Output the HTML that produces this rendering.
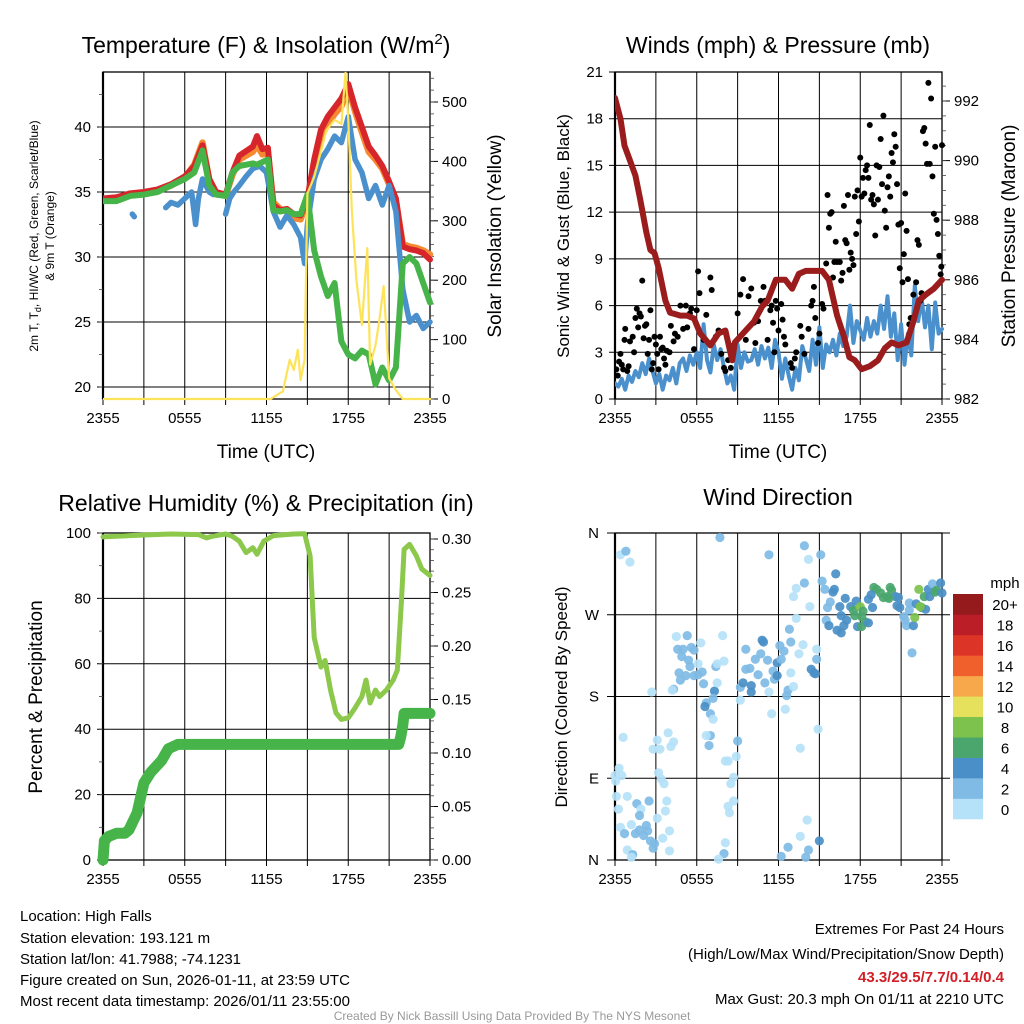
<!DOCTYPE html>
<html><head><meta charset="utf-8"><style>
html,body{margin:0;padding:0;background:#fff;}
svg{display:block;font-family:"Liberation Sans",Arial,sans-serif;}
</style></head><body>
<svg id="fig" width="1024" height="1024" viewBox="0 0 1024 1024" xmlns="http://www.w3.org/2000/svg">
<rect width="1024" height="1024" fill="#fff"/>
<text x="266" y="53" font-size="23" text-anchor="middle">Temperature (F) &amp; Insolation (W/m<tspan dy="-9" font-size="15">2</tspan><tspan dy="9">)</tspan></text>
<text x="778" y="53" font-size="23" text-anchor="middle">Winds (mph) &amp; Pressure (mb)</text>
<text x="266" y="511" font-size="23" text-anchor="middle">Relative Humidity (%) &amp; Precipitation (in)</text>
<text x="778" y="505" font-size="23" text-anchor="middle">Wind Direction</text>
<text x="266" y="458" font-size="19" text-anchor="middle">Time (UTC)</text>
<text x="778" y="458" font-size="19" text-anchor="middle">Time (UTC)</text>
<text transform="translate(38,236) rotate(-90)" font-size="12" text-anchor="middle">2m T, T<tspan dy="3" font-size="9">d</tspan><tspan dy="-3">, HI/WC (Red, Green, Scarlet/Blue)</tspan></text>
<text transform="translate(54,236) rotate(-90)" font-size="12" text-anchor="middle">&amp; 9m T (Orange)</text>
<text transform="translate(501,236) rotate(-90)" font-size="19" text-anchor="middle">Solar Insolation (Yellow)</text>
<text transform="translate(569,236) rotate(-90)" font-size="17" text-anchor="middle">Sonic Wind &amp; Gust (Blue, Black)</text>
<text transform="translate(1015,236) rotate(-90)" font-size="19" text-anchor="middle">Station Pressure (Maroon)</text>
<text transform="translate(42,697) rotate(-90)" font-size="19" text-anchor="middle">Percent &amp; Precipitation</text>
<text transform="translate(567,697) rotate(-90)" font-size="17" text-anchor="middle">Direction (Colored By Speed)</text>
<g font-size="15">
<text x="20" y="921">Location: High Falls</text>
<text x="20" y="943">Station elevation: 193.121 m</text>
<text x="20" y="964">Station lat/lon: 41.7988; -74.1231</text>
<text x="20" y="985">Figure created on Sun, 2026-01-11, at 23:59 UTC</text>
<text x="20" y="1006">Most recent data timestamp: 2026/01/11 23:55:00</text>
</g>
<g font-size="15" text-anchor="end">
<text x="1004" y="934">Extremes For Past 24 Hours</text>
<text x="1004" y="959">(High/Low/Max Wind/Precipitation/Snow Depth)</text>
<text x="1004" y="982" fill="#d01f26" font-weight="bold">43.3/29.5/7.7/0.14/0.4</text>
<text x="1004" y="1004">Max Gust: 20.3 mph On 01/11 at 2210 UTC</text>
</g>
<text x="512" y="1020" font-size="12" fill="#999" text-anchor="middle">Created By Nick Bassill Using Data Provided By The NYS Mesonet</text>
<text x="1005" y="588" font-size="15" text-anchor="middle">mph</text>
</svg>
<script>
// ---- data ----
const hourLabels = ["2355","0555","1155","1755","2355"];
const tempTicks = [20,25,30,35,40];
const solTicks = [0,100,200,300,400,500];
const windTicks = [0,3,6,9,12,15,18,21];
const presTicks = [982,984,986,988,990,992];
const rhTicks = [0,20,40,60,80,100];
const precipTicks = [0,0.05,0.10,0.15,0.20,0.25,0.30];
const dirTicks = [0,90,180,270,360];
const dirLabels = ["N","E","S","W","N"];
const speedBins = ["0","2","4","6","8","10","12","14","16","18","20+"];
const speedColors = ["#b5e2f8","#7fbbe5","#4a8fc7","#4aa66c","#7dc24c","#e5e15c","#f6a84b","#f0602d","#dd3428","#bb1e26","#941a1c"];

const redT = [0,1,2,3,4,5,6,6.7,7.3,7.8,8.3,9,9.5,10,11,11.3,11.7,12.1,12.5,13,13.5,14,14.5,15,15.5,16,16.5,17,17.5,18,18.5,19,19.5,20,20.5,21,21.5,22,22.5,23,23.5,24];
const redV = [34.5,34.6,34.9,35.0,35.2,35.6,36.2,37,38.6,36,35.0,34.8,36.5,37.8,38.5,39.3,38.3,38.4,34.0,33.6,33.7,33.3,33.2,34.5,37.5,39.8,40.8,41.5,42.2,43.3,41.5,40.0,38.5,37.8,37.0,35.8,34.5,30.8,30.6,30.5,30.3,29.8];
const orangeV = [34.4,34.5,34.8,34.9,35.1,35.5,36.1,37.1,38.8,35.9,34.9,34.7,36.3,37.5,38.1,38.6,37.9,38.0,34.2,33.7,33.5,33.0,32.9,34.3,37.2,39.3,40.2,41.0,41.6,43.0,41.2,39.6,38.1,37.5,36.8,35.6,34.3,31.0,30.8,30.7,30.5,30.2];
const greenV = [34.3,34.3,34.7,34.8,35.0,35.5,36,36.5,38.2,35.5,34.8,34.7,36.5,37,37.2,37.1,37.3,37.5,33.6,33.5,33.6,33.3,33.3,34.8,30.5,28.5,27,28,23.5,22.5,22.2,22.8,22.5,20.2,21.5,20.5,21.5,29.5,30,29.5,28,26.5];
const blueT = [2.15,2.3,2.4,4.6,5,5.5,6,6.5,6.8,7,7.3,7.8,8.1,8.2,9,9.3,9.6,10,10.5,11,11.5,12,12.5,13,13.5,14,14.5,14.8,15,15.5,16,16.5,17,17.5,18,18.5,19,19.5,20,20.5,21,21.5,22,22.5,23,23.5,24];
const blueV = [33.3,33.1,null,33.8,34.2,34.0,34.5,35,32.5,34.5,36,35,34.8,null,33.3,34.5,35,35.5,36.2,36.8,37,36.5,33.5,32.3,33.2,32.5,31.5,29.5,32.5,36,37.5,38.3,39.3,38.8,40.8,37.5,36.5,34.5,35.5,34,35.5,33.5,27.5,25,25.5,24.5,25];
const solT = [0,12.3,13.2,13.7,14,14.3,14.5,14.8,15,15.5,16.4,17,17.5,17.8,18.0,18.26,18.6,19,19.4,19.6,20,20.3,20.6,21,21.5,22,24];
const solV = [0,0,13,66,49,83,32,66,346,374,452,470,463,549,470,318,200,125,254,58,90,136,190,35,15,0,0];

const windV = [1.0,0.8,1.3,0.6,1.5,1.1,1.8,1.4,2.3,1.6,2.6,1.8,1.0,1.6,0.6,1.5,1.2,2.0,1.0,2.3,2.6,1.8,2.8,2.2,3.0,2.0,4.8,2.5,1.7,3.5,2.5,3.2,2.0,1.0,1.5,0.6,3.5,2.0,3.0,2.4,2.5,3.2,2.2,3.4,2.6,3.3,2.0,3.8,3.0,1.3,2.6,1.5,0.6,2.0,1.2,3.4,2.6,1.8,3.8,2.2,4.6,2.0,3.5,3.0,3.8,2.8,4.2,3.4,4.0,6.0,3.6,5.0,4.4,3.8,5.2,4.0,5.0,4.2,6.0,4.5,6.6,4.0,5.5,2.5,4.8,2.2,4.2,2.8,7.3,5.0,6.5,4.6,6.0,3.2,6.2,4.2,4.5];
const gustT = [0.1,0.2,0.3,0.4,0.5,0.6,0.7,0.75,0.9,1.0,1.1,1.3,1.4,1.5,1.6,1.7,1.8,1.9,2.0,2.1,2.2,2.3,2.4,2.5,2.6,2.7,2.8,2.9,3.0,3.1,3.2,3.3,3.4,3.5,3.6,3.7,3.8,4.0,4.1,4.3,4.4,4.6,4.8,5.0,5.2,5.3,5.5,5.6,5.8,6.0,6.1,6.2,6.5,6.7,7.0,7.1,7.4,7.6,7.8,8.0,8.1,8.3,8.5,8.6,9.0,9.2,9.4,9.6,9.8,10.0,10.2,10.3,10.5,10.7,10.9,11.0,11.2,11.4,11.5,11.6,11.7,11.8,11.9,12.0,12.2,12.3,12.4,12.5,12.9,13.0,13.2,13.3,13.6,13.7,13.9,14.2,14.4,14.5,14.6,14.7,14.9,15.0,15.2,15.3,15.5,15.6,15.7,15.8,15.9,16.0,16.1,16.2,16.3,16.5,16.6,16.7,16.8,16.9,17.0,17.1,17.2,17.3,17.4,17.5,17.6,17.7,17.8,17.9,18.0,18.1,18.2,18.3,18.4,18.5,18.6,18.7,18.8,18.9,19.0,19.1,19.2,19.3,19.4,19.5,19.6,19.7,19.8,19.9,20.0,20.1,20.2,20.3,20.4,20.5,20.6,20.7,20.8,20.9,21.0,21.1,21.2,21.3,21.4,21.5,21.6,21.7,21.9,22.1,22.2,22.3,22.4,22.5,22.6,22.7,22.8,22.9,23.0,23.1,23.2,23.3,23.4,23.5,23.6,23.7,23.8,23.9,23.95,24.0];
const gustV = [1.9,1.5,2.4,2.9,2.2,1.9,3.8,4.5,1.8,2.1,3.7,4.0,3.0,5.2,5.8,4.6,5.5,5.3,7.6,3.9,4.7,4.8,2.9,3.8,5.7,1.9,2.3,4.0,3.5,2.9,1.9,4.0,3.2,3.3,2.6,2.2,3.1,3.0,4.7,3.7,4.2,4.0,6.0,4.5,6.0,4.6,5.5,5.8,3.2,5.7,8.2,6.8,3.8,5.4,7.8,7.0,4.0,4.4,2.9,2.0,1.8,2.5,2.0,3.4,5.5,6.7,7.7,3.8,6.6,7.1,4.9,3.6,5.0,6.3,7.2,6.3,3.8,5.7,6.0,4.9,3.0,6.3,5.8,4.4,6.1,5.1,4.0,3.5,2.3,2.0,2.6,3.0,4.7,4.0,2.9,4.5,6.0,6.3,7.2,5.2,3.6,4.2,6.1,5.8,8.7,13.1,11.0,11.9,12.0,7.8,8.8,10.1,8.8,8.8,7.6,8.1,12.4,10.2,10.0,13.1,8.3,9.4,9.0,8.6,13.0,10.6,13.4,11.4,15.5,13.0,14.2,13.2,14.7,15.0,14.2,17.6,12.8,13.1,12.5,10.5,15.0,12.8,14.9,16.7,13.8,18.2,12.1,11.0,13.6,14.3,13.0,15.8,15.2,17.0,16.2,13.8,11.2,8.4,11.3,7.5,9.3,13.2,10.8,7.7,4.8,5.2,6.7,7.5,10.2,9.9,6.3,6.8,17.2,17.4,16.4,15.1,20.3,15.1,19.3,14.3,11.9,16.2,11.5,10.6,9.2,8.0,8.5,16.3,16.0,12.9,12.1,10.8];
const presT = [0,0.4,0.7,1.1,1.5,1.85,2.3,2.6,2.9,3.2,3.7,4.04,4.8,5.3,5.8,6.25,7,7.6,8.1,8.6,8.8,9.4,10.2,10.8,11.2,11.8,12.5,13,13.5,14,14.6,15.2,15.7,16.3,16.8,17.2,17.6,18.1,18.7,19.3,19.8,20.3,20.8,21.4,21.9,22.3,22.8,23.4,24];
const presV = [992.1,991.4,990.5,990,989.5,988.7,987.6,987,986.9,986.4,985.3,984.9,984.8,984.8,984.7,984.2,983.8,984.2,984.3,983.3,983.9,984.2,984.6,985.1,985.3,986,986,985.7,986.2,986.3,986.3,986.3,986,984.8,984.1,983.4,983.3,983,983.1,983.3,983.7,983.9,983.8,983.9,984.6,985.3,985.5,985.7,986];

const rhT = [0,1,3,5,7,7.6,8,9,9.5,10,10.5,11,11.3,11.8,12.5,14,14.8,15.2,15.5,16,16.3,16.7,17.1,17.5,18,18.5,19,19.3,19.6,20,20.3,20.8,21.3,21.6,21.9,22.1,22.5,23,23.4,24];
const rhV = [98.8,99,99.4,99.7,99.5,98.5,99,99.7,99,97.5,94,95.5,93.5,97.5,99.2,99.7,99.8,93,68,59,61,52,45,43,43.5,46.5,50,55,48,52,50,52,55,58,79,95,96.5,93,89,87];
const precipT = [0,0.1,0.4,1,1.6,1.9,2.5,3,3.5,4.3,4.8,5.5,21.7,21.85,22.0,22.1,24];
const precipV = [0,0.018,0.022,0.025,0.025,0.028,0.044,0.072,0.082,0.093,0.104,0.108,0.108,0.115,0.126,0.137,0.137];

const dirT = [0.4,0.8,1.1,0.6,0.3,0.5,0.0,0.05,0.1,0.25,0.9,1.6,1.9,1.8,2.5,0.4,0.7,1.2,1.5,1.8,2.1,2.3,2.4,2.6,2.9,2.8,0.9,1.3,1.2,3.1,3.5,4.0,4.0,3.7,3.8,3.6,3.4,3.2,2.8,3.3,3.1,3.9,4.3,4.1,2.7,4.5,5.3,4.6,5.0,5.6,5.8,6.3,4.9,5.4,5.5,6.1,4.7,5.2,5.8,6.4,4.8,4.3,4.2,6.5,6.1,7.3,7.2,6.7,6.6,7.0,7.2,7.0,6.9,6.7,7.4,7.5,7.5,7.7,7.9,8.0,9.0,8.9,8.7,8.5,8.3,8.1,8.7,8.3,8.4,8.1,8.0,7.6,9.2,9.2,9.4,9.6,10.0,10.0,9.6,9.9,10.3,10.5,10.7,10.8,10.9,11.2,11.0,11.3,11.5,11.6,11.7,11.9,11.9,12.1,12.4,12.2,12.6,12.7,12.5,12.8,12.9,12.9,13.1,13.5,13.8,13.9,13.3,13.1,13.3,11.3,13.9,14.2,15.1,14.3,14.8,14.8,14.4,14.6,14.7,14.9,13.6,13.6,14.1,14.2,14.0,12.7,12.2,15.0,15.2,15.4,16.2,16.1,16.0,15.6,15.8,15.5,15.7,16.3,16.6,16.8,16.6,16.5,16.9,17.3,17.0,17.5,17.7,18.0,18.2,18.1,18.4,17.8,18.1,18.6,18.9,19.0,19.2,19.5,19.7,20.0,20.2,20.3,20.6,20.8,20.7,20.9,21.3,21.4,21.6,21.9,21.8,22.0,22.1,22.3,22.5,22.7,22.8,23.0,23.3,23.1,23.5,23.6,23.9,24.0,21.6,21.2,18.8,17.6,18.6,20.1,22.4];
const dirV = [336,340,328,135,101,93,93,87,70,56,70,62,56,49,65,36,29,39,29,33,27,38,32,21,18,13,11,6,3,46,24,32,10,54,65,84,89,96,122,122,132,140,130,125,185,246,247,232,232,234,231,239,224,220,213,216,206,203,203,207,198,188,187,194,204,186,178,173,169,161,155,137,126,137,213,216,195,355,247,219,131,114,91,84,109,109,65,59,52,19,7,1,176,190,195,232,192,185,210,211,221,204,227,242,240,220,195,185,161,208,199,217,203,236,230,221,181,187,166,254,240,206,191,227,237,305,299,290,266,336,346,331,336,279,232,221,210,206,205,144,123,26,44,11,3,14,4,21,307,298,315,298,295,278,284,264,258,253,250,258,269,279,288,279,264,275,285,279,274,268,262,257,257,287,278,300,298,294,289,290,300,297,290,289,280,278,264,258,283,258,228,267,282,298,278,290,276,298,304,290,295,297,305,294,275,268,292,269,261,288,279];
const dirS = [0,2,0,0,0,0,0,0,0,0,0,2,0,2,2,0,2,0,2,2,2,2,2,2,2,2,0,2,0,0,0,0,0,0,0,0,0,0,0,0,0,0,0,0,0,0,2,2,2,2,2,0,2,2,2,0,2,2,2,2,2,2,0,2,2,4,2,2,4,2,0,2,2,0,2,0,0,2,0,0,2,0,0,0,0,0,0,0,0,0,2,0,0,2,4,2,4,4,2,2,2,2,2,4,4,2,2,0,0,2,2,4,4,2,2,2,2,2,0,2,2,0,0,0,0,2,0,0,0,2,2,0,2,0,0,2,4,4,4,0,0,0,0,2,2,2,2,4,2,2,4,4,4,2,2,2,4,4,4,4,4,4,4,4,4,6,4,8,6,6,6,4,6,4,4,6,6,6,6,6,6,6,4,4,4,4,2,2,2,4,2,8,4,8,6,6,4,4,2,4,6,6,4,4,2,2,4,6,4,6,8];

// ---- helpers ----
const NS = "http://www.w3.org/2000/svg";
const svg = document.getElementById("fig");
function mk(tag, attrs, parent){const e=document.createElementNS(NS,tag);for(const k in attrs)e.setAttribute(k,attrs[k]);(parent||svg).appendChild(e);return e;}
const panels = {
  temp:{x0:103,x1:430,y0:72,y1:399},
  wind:{x0:615,x1:942,y0:72,y1:399},
  rh:{x0:103,x1:430,y0:533,y1:860},
  dir:{x0:615,x1:942,y0:533,y1:860}
};
function xs(p,h){return p.x0+(p.x1-p.x0)*h/24;}
function lin(d0,d1,r0,r1){return v=>r0+(v-d0)*(r1-r0)/(d1-d0);}
const yTemp = lin(20,40,387,127);
const ySol = lin(0,500,399,102);
const yWind = lin(0,21,399,72);
const yPres = lin(982,992,399,101);
const yRh = lin(0,100,860,533);
const yPrec = lin(0,0.30,860,539);
const yDir = lin(0,360,860,533);

function frame(p,name){
  const g=mk("g",{});
  
  
  for(let h=3;h<24;h+=3){
    const l=mk("line",{x1:xs(p,h),x2:xs(p,h),y1:p.y0,y2:p.y1+6,stroke:"#000","stroke-width":1},g);
    
    
  }
  [0,24].forEach(h=>{mk("line",{x1:xs(p,h),x2:xs(p,h),y1:p.y1,y2:p.y1+6,stroke:"#000","stroke-width":1},g);});
  hourLabels.forEach((lab,i)=>{
    const t=mk("text",{x:xs(p,i*6),y:p.y1+24,"font-size":15,"text-anchor":"middle"},g);
    t.textContent=lab;
    
    
  });
  const r=mk("rect",{x:p.x0,y:p.y0,width:p.x1-p.x0,height:p.y1-p.y0,fill:"none",stroke:"#000","stroke-width":1.3},g);
  
  
  mk("line",{x1:p.x0,x2:p.x0,y1:p.y0,y2:p.y1,stroke:"#000","stroke-width":2.2},g);
  return g;
}
function yAxis(p,ticks,fy,side,fmt,grid,minorStep,lo,hi,name){
  const g=mk("g",{});
  
  
  ticks.forEach(v=>{
    const y=fy(v);
    if(side==="L"){
      mk("line",{x1:p.x0-6,x2:grid?p.x1:p.x0,y1:y,y2:y,stroke:"#000","stroke-width":1},g);
    } else {
      mk("line",{x1:p.x1,x2:p.x1+8,y1:y,y2:y,stroke:"#000","stroke-width":1},g);
    }
    const t=mk("text",{x:side==="L"?p.x0-12:p.x1+12,y:y+5,"font-size":15,"text-anchor":side==="L"?"end":"start"},g);
    t.textContent=fmt(v);
    
    
  });
  if(minorStep){
    for(let v=lo;v<=hi+1e-9;v+=minorStep){
      const y=fy(v); if(y<p.y0-0.5||y>p.y1+0.5) continue;
      if(side==="L") mk("line",{x1:p.x0-4,x2:p.x0,y1:y,y2:y,stroke:"#444","stroke-width":0.8},g);
      else mk("line",{x1:p.x1,x2:p.x1+4,y1:y,y2:y,stroke:"#444","stroke-width":0.8},g);
    }
  }
}
function path(p,T,V,fy,color,w,name,parent){
  let d="",pen=false;
  for(let i=0;i<T.length;i++){
    if(V[i]===null){pen=false;continue;}
    d+=(pen?"L":"M")+xs(p,T[i]).toFixed(1)+","+fy(V[i]).toFixed(1);
    pen=true;
  }
  const e=mk("path",{d:d,fill:"none",stroke:color,"stroke-width":w,"stroke-linejoin":"round","stroke-linecap":"round"},parent);
  
  
  return e;
}
function clip(id,p){const c=mk("clipPath",{id:id});mk("rect",{x:p.x0,y:p.y0-6,width:p.x1-p.x0+4,height:p.y1-p.y0+8},c);return "url(#"+id+")";}

// ---- panel 1: temperature ----
const P1=panels.temp;
frame(P1,"temperature");
yAxis(P1,tempTicks,yTemp,"L",v=>v,true,2.5,17.5,45,"temperature-y-axis");
yAxis(P1,solTicks,ySol,"R",v=>v,false,20,0,540,"insolation-y-axis");
const g1=mk("g",{"clip-path":clip("c1",P1)});
path(P1,redT,orangeV,yTemp,"#f58a32",6.5,"series-9m-temperature",g1);
path(P1,redT,redV,yTemp,"#d7262b",6,"series-2m-temperature",g1);
path(P1,blueT,blueV,yTemp,"#4a90cd",5.5,"series-wind-chill",g1);
path(P1,redT,greenV,yTemp,"#46b448",6,"series-dewpoint",g1);
path(P1,solT,solV,ySol,"#fde35a",2.2,"series-insolation",g1);

// ---- panel 2: winds ----
const P2=panels.wind;
frame(P2,"winds");
yAxis(P2,windTicks,yWind,"L",v=>v,true,0,0,0,"wind-y-axis");
yAxis(P2,presTicks,yPres,"R",v=>v,false,0.5,982,993,"pressure-y-axis");
const g2=mk("g",{"clip-path":clip("c2",P2)});
const windT = windV.map((v,i)=>i*0.25);
path(P2,windT,windV,yWind,"#4a90cd",4,"series-sonic-wind",g2);
gustT.forEach((t,i)=>{
  const c=mk("circle",{cx:xs(P2,t),cy:yWind(gustV[i]),r:3,fill:"#000"},g2);
  
  
});
path(P2,presT,presV,yPres,"#9b1c1c",6,"series-pressure",g2);

// ---- panel 3: RH & precip ----
const P3=panels.rh;
frame(P3,"humidity");
yAxis(P3,rhTicks,yRh,"L",v=>v,true,10,0,100,"humidity-y-axis");
yAxis(P3,precipTicks,yPrec,"R",v=>v.toFixed(2),false,0.01,0,0.3,"precipitation-y-axis");
path(P3,rhT,rhV,yRh,"#8cc84b",5,"series-relative-humidity");
path(P3,precipT,precipV,yPrec,"#46b448",11,"series-precipitation");

// ---- panel 4: wind direction ----
const P4=panels.dir;
frame(P4,"wind-direction");
const g4=mk("g",{});


dirTicks.forEach((d,i)=>{
  const y=yDir(d);
  mk("line",{x1:P4.x0-8,x2:P4.x1+8,y1:y,y2:y,stroke:"#000","stroke-width":1},g4);
  const t=mk("text",{x:P4.x0-16,y:y+5,"font-size":15,"text-anchor":"end"},g4);
  t.textContent=dirLabels[i];
  
  
});
dirT.forEach((t,i)=>{
  const c=mk("circle",{cx:xs(P4,t),cy:yDir(dirV[i]),r:4.6,fill:speedColors[dirS[i]/2],"fill-opacity":0.92});
  
  
});
// colorbar
const cbTop=594, cbH=225/11;
speedBins.forEach((lab,i)=>{
  const y=cbTop+(10-i)*cbH;
  const r=mk("rect",{x:953,y:y,width:30,height:cbH+0.3,fill:speedColors[i]});
  
  
  const t=mk("text",{x:1005,y:y+cbH/2+6,"font-size":15,"text-anchor":"middle"});
  t.textContent=lab;
  
  
});
</script>
</body></html>
